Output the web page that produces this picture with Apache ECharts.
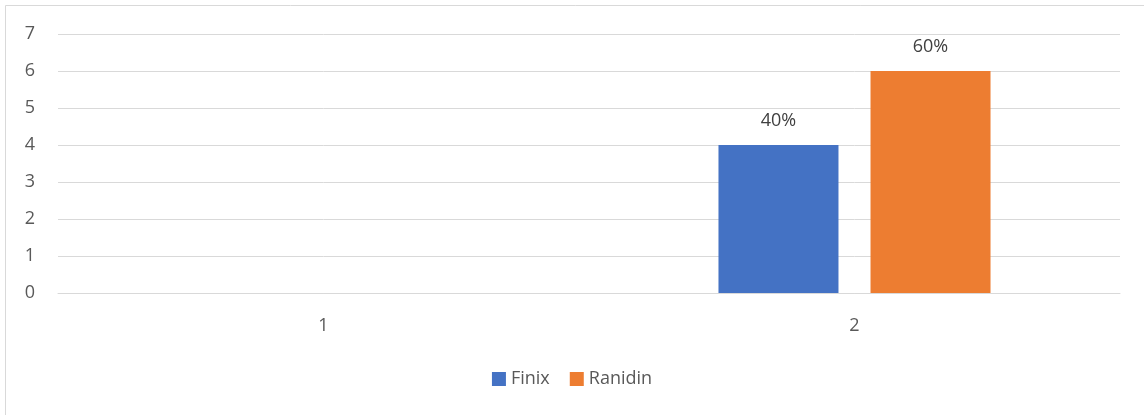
<!DOCTYPE html>
<html>
<head>
<meta charset="utf-8">
<script src="https://cdn.jsdelivr.net/npm/echarts@6/dist/echarts.min.js"></script>
<style>
html,body{margin:0;padding:0;background:#fff;}
#chart{width:1144px;height:415px;}
</style>
</head>
<body>
<div id="chart"></div>
<script>
const categories = ['1', '2'];
const finixValues = [null, 4];
const ranidinValues = [null, 6];
const finixLabels = ['', '40%'];
const ranidinLabels = ['', '60%'];
const yTicks = [0, 1, 2, 3, 4, 5, 6, 7];

const chart = echarts.init(document.getElementById('chart'), null, {renderer: 'canvas'});
const font = '"Open Sans", "Liberation Sans", sans-serif';
const labelStyle = {color: '#404040', fontSize: 18, fontFamily: font};

chart.setOption({
  animation: false,
  backgroundColor: '#ffffff',
  graphic: [{
    type: 'rect', silent: true, z: -1,
    shape: {x: 5.5, y: 5.5, width: 1200, height: 500},
    style: {fill: 'none', stroke: '#d9d9d9', lineWidth: 1}
  }],
  grid: {left: 58, right: 24, top: 34, bottom: 122, containLabel: false},
  legend: {
    data: ['Finix', 'Ranidin'],
    top: 365, left: 'center',
    itemWidth: 14, itemHeight: 14, itemGap: 20,
    icon: 'rect',
    textStyle: {color: '#595959', fontSize: 18, fontFamily: font}
  },
  xAxis: {
    type: 'category',
    data: categories,
    axisLine: {show: true, lineStyle: {color: '#d9d9d9', width: 1}},
    axisTick: {show: false},
    axisLabel: {color: '#595959', fontSize: 18, fontFamily: font, margin: 24}
  },
  yAxis: {
    type: 'value',
    min: yTicks[0], max: yTicks[yTicks.length - 1], interval: 1,
    axisLine: {show: false},
    axisTick: {show: false},
    splitLine: {lineStyle: {color: '#d9d9d9', width: 1}},
    axisLabel: {color: '#595959', fontSize: 18, fontFamily: font, margin: 23}
  },
  series: [
    {
      name: 'Finix', type: 'bar', data: finixValues,
      barWidth: 120, barGap: '26.7%',
      itemStyle: {color: '#4472c4'},
      label: {show: true, position: 'top', distance: 15,
        formatter: p => finixLabels[p.dataIndex], ...labelStyle}
    },
    {
      name: 'Ranidin', type: 'bar', data: ranidinValues,
      barWidth: 120, barGap: '26.7%',
      itemStyle: {color: '#ed7d31'},
      label: {show: true, position: 'top', distance: 15,
        formatter: p => ranidinLabels[p.dataIndex], ...labelStyle}
    }
  ]
});
</script>
</body>
</html>
